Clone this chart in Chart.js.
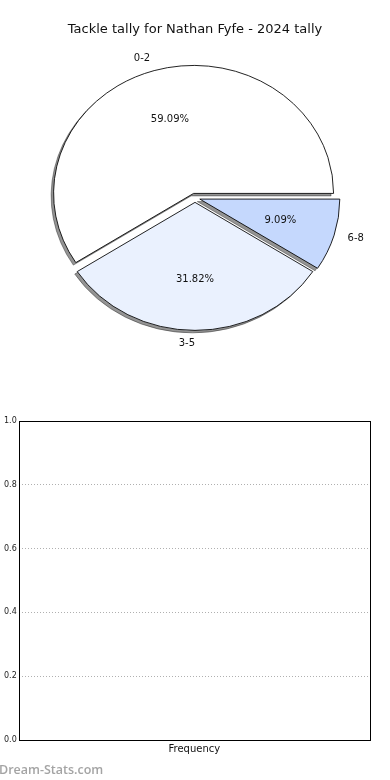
<html>
<head>
  <title>Tackle tally</title>
  <script src="https://cdn.jsdelivr.net/npm/chart.js"></script>
  <style>
    body { margin: 0; width: 390px; height: 780px; background: #fff; position: relative; overflow: hidden; }
    #pieBox { position: absolute; left: 0; top: 0; width: 390px; height: 400px; }
    #freqBox { position: absolute; left: 0; top: 400px; width: 390px; height: 380px; }
    #mark { position: absolute; left: -1px; top: 761px; font: 600 12.5px "Open Sans", sans-serif; color: #a4a4a4; }
  </style>
</head>
<body>
  <div id="pieBox"><canvas id="pieChart"></canvas></div>
  <div id="freqBox"><canvas id="freqChart"></canvas></div>
  <div id="mark">Dream-Stats.com</div>

  <script>
    // tally buckets and how many games fell in each
    const categories = ['0-2', '3-5', '6-8'];
    const tallies = [13, 7, 2];
    const sliceColors = ['#ffffff', '#eaf1fe', '#c5d8fd'];

    // second panel (empty histogram)
    const freqLabels = [];
    const freqValues = [];
    const yTicks = [0, 0.2, 0.4, 0.6, 0.8, 1.0];

    const squash = 128 / 140;   // pie is a bit flatter than round
    const explode = 5;          // px each slice is pushed out
    const total = tallies.reduce((a, b) => a + b, 0);

    // matplotlib goes anticlockwise from east, chart.js clockwise -> reverse
    const order = categories.map((c, i) => i).reverse();

    function placeArc(ctx, arc, shiftX) {
      const mid = (arc.startAngle + arc.endAngle) / 2;
      ctx.translate(arc.x + Math.cos(mid) * explode + shiftX, arc.y + Math.sin(mid) * explode * squash);
      ctx.scale(1, squash);
      ctx.translate(-arc.x, -arc.y);
    }

    const pieLook = {
      id: 'pieLook',
      beforeDatasetsDraw(chart) {
        const ctx = chart.ctx;
        const arcs = chart.getDatasetMeta(0).data;

        // shadows first: draw arcs off canvas and keep only their shadow
        arcs.forEach(arc => {
          ctx.save();
          placeArc(ctx, arc, 2000);
          ctx.shadowColor = 'rgba(0,0,0,0.42)';
          ctx.shadowOffsetX = -2002.5;
          ctx.shadowOffsetY = 2.5;
          ctx.shadowBlur = 0;
          arc.draw(ctx);
          ctx.restore();
        });

        arcs.forEach(arc => {
          ctx.save();
          placeArc(ctx, arc, 0);
          arc.draw(ctx);
          ctx.restore();
        });

        ctx.save();
        ctx.font = '10px "DejaVu Sans"';
        ctx.fillStyle = '#111';
        ctx.textBaseline = 'middle';
        arcs.forEach((arc, k) => {
          const i = order[k];
          const mid = (arc.startAngle + arc.endAngle) / 2;
          const c = Math.cos(mid), s = Math.sin(mid);
          const r = arc.outerRadius;
          const vx = arc.x + c * explode;
          const vy = arc.y + s * explode * squash;
          ctx.textAlign = c > 0.001 ? 'left' : 'right';
          ctx.fillText(categories[i], vx + 1.1 * r * c, vy + 1.1 * r * s * squash);
          ctx.textAlign = 'center';
          const pct = (tallies[i] / total * 100).toFixed(2) + '%';
          ctx.fillText(pct, vx + 0.6 * r * c, vy + 0.6 * r * s * squash);
        });
        ctx.restore();
        return false;
      }
    };

    new Chart(document.getElementById('pieChart'), {
      type: 'pie',
      data: {
        labels: order.map(i => categories[i]),
        datasets: [{
          data: order.map(i => tallies[i]),
          backgroundColor: order.map(i => sliceColors[i]),
          borderColor: '#000',
          borderWidth: 0.9,
          radius: 140
        }]
      },
      options: {
        responsive: true,
        maintainAspectRatio: false,
        animation: false,
        rotation: 90,
        layout: { padding: { left: 20, right: 20, top: 0, bottom: 52 } },
        plugins: {
          legend: { display: false },
          tooltip: { enabled: false },
          title: {
            display: true,
            text: 'Tackle tally for Nathan Fyfe - 2024 tally',
            color: '#111',
            font: { family: 'DejaVu Sans', size: 13, weight: 'normal' },
            padding: { top: 22, bottom: 10 }
          }
        }
      },
      plugins: [pieLook]
    });

    const frame = {
      id: 'frame',
      afterDraw(chart) {
        const a = chart.chartArea;
        const ctx = chart.ctx;
        ctx.save();
        ctx.strokeStyle = '#000';
        ctx.lineWidth = 1;
        ctx.strokeRect(Math.round(a.left) + 0.5, Math.round(a.top) + 0.5,
          Math.round(a.right - a.left), Math.round(a.bottom - a.top));
        ctx.restore();
      }
    };

    new Chart(document.getElementById('freqChart'), {
      type: 'bar',
      data: {
        labels: freqLabels,
        datasets: [{ data: freqValues, backgroundColor: '#c5d8fd' }]
      },
      options: {
        responsive: true,
        maintainAspectRatio: false,
        animation: false,
        layout: { padding: { left: 2, right: 20, top: 21, bottom: 25 } },
        plugins: { legend: { display: false }, tooltip: { enabled: false } },
        scales: {
          x: {
            grid: { display: false, drawTicks: false },
            border: { display: false },
            ticks: { display: false },
            title: {
              display: true,
              text: 'Frequency',
              color: '#111',
              font: { family: 'DejaVu Sans', size: 10 },
              padding: { top: 3, bottom: 0 }
            }
          },
          y: {
            min: yTicks[0],
            max: yTicks[yTicks.length - 1],
            afterBuildTicks: axis => { axis.ticks = yTicks.map(v => ({ value: v })); },
            ticks: {
              padding: 2,
              color: '#222',
              font: { family: 'DejaVu Sans', size: 8 },
              callback: v => v.toFixed(1)
            },
            grid: { color: '#b0b0b0', lineWidth: 1, drawTicks: false },
            border: { display: false, dash: [1, 2] }
          }
        }
      },
      plugins: [frame]
    });
  </script>
</body>
</html>
